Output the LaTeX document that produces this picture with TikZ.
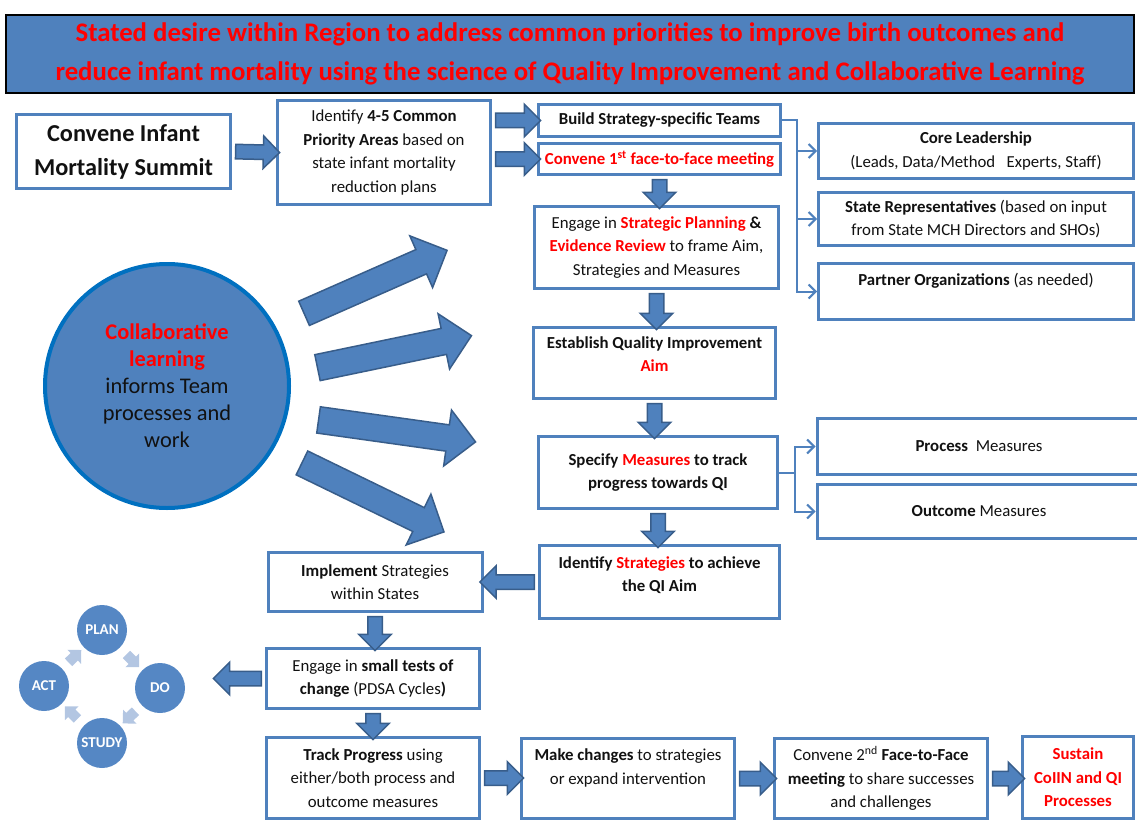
\documentclass[tikz,border=0pt]{standalone}
\usepackage{fontspec}
\setmainfont{Carlito}
\usetikzlibrary{arrows.meta,positioning,shapes.arrows,shapes.geometric,calc}
\definecolor{cBlue}{HTML}{4F81BD}
\definecolor{cBlueDk}{HTML}{385D8A}
\definecolor{cRing}{HTML}{0070C0}
\definecolor{cRed}{HTML}{FF0000}
\definecolor{cPale}{HTML}{B3C6E2}
\definecolor{cCycle}{HTML}{5587C4}
\definecolor{cInk}{HTML}{111111}

% red bold highlight
\newcommand{\hl}[1]{\textcolor{cRed}{\bfseries #1}}
% fat block arrow from #2 to #3
\newcommand{\fatarrow}[3][]{%
  \path let \p1=#2, \p2=#3,
    \n1={atan2(\y2-\y1,\x2-\x1)}, \n2={veclen(\x2-\x1,\y2-\y1)} in
    node[blockarrow, #1, minimum height=\n2, rotate=\n1] at ($(\p1)!0.5!(\p2)$) {};}

\begin{document}
\begin{tikzpicture}[
    x=1pt, y=-1pt,
    every node/.style={text=cInk},
    box/.style={
        rectangle, draw=cBlue, line width=3pt, fill=white,
        align=center, inner sep=2pt, font=\fontsize{16.8}{23.5}\selectfont
    },
    banner/.style={
        rectangle, draw=black, line width=2pt, fill=cBlue,
        minimum width=1128, minimum height=78, align=center,
        text=cRed, font=\fontsize{26.8}{39}\selectfont\bfseries
    },
    learn/.style={
        circle, draw=cRing, line width=4pt, fill=cBlue, minimum size=244,
        align=center, inner sep=0pt, font=\fontsize{22.4}{27}\selectfont
    },
    cycle/.style={
        circle, fill=cCycle, minimum size=50, inner sep=0pt,
        text=white, font=\fontsize{15}{16}\selectfont\bfseries
    },
    blockarrow/.style={
        single arrow, draw=cBlueDk, fill=cBlue, line width=1.5pt,
        inner xsep=0pt, inner ysep=6.5pt, single arrow head extend=9pt,
        minimum width=1pt
    },
    rayarrow/.style={inner ysep=12.5pt, single arrow head extend=15pt},
    cyclearrow/.style={draw=none, fill=cPale, inner ysep=4.5pt, single arrow head extend=4.5pt},
    link/.style={draw=cBlue, line width=2pt, -{Straight Barb[length=7pt,width=14pt]}},
]
\useasboundingbox (0,0) rectangle (1137,824);
\clip (0,0) rectangle (1137,824);

% =====================================================
% Banner and top row
% =====================================================

\node[banner] (goal) at (570,54)
    {Stated desire within Region to address common priorities to improve birth outcomes and\\
     reduce infant mortality using the science of Quality Improvement and Collaborative Learning};

\node[box, minimum width=214, minimum height=74, font=\fontsize{24.3}{34}\selectfont\bfseries]
    (summit) at (123.5,151.5) {Convene Infant\\Mortality Summit};
\node[box, minimum width=213, minimum height=104] (areas) at (384,152.5)
    {Identify \textbf{4-5 Common}\\\textbf{Priority Areas} based on\\state infant mortality\\reduction plans};
\node[box, minimum width=242, minimum height=32] (teams) at (659.5,120.5)
    {\textbf{Build Strategy-specific Teams}};
\node[box, minimum width=242, minimum height=31, below=4pt of teams] (meet1)
    {\hl{Convene 1\textsuperscript{st} face-to-face meeting}};

% team members
\node[box, minimum width=315, minimum height=55] (core) at (976,151)
    {\textbf{Core Leadership}\\(Leads, Data/Method\ \ \ Experts, Staff)};
\node[box, minimum width=315, minimum height=53] (staterep) at (976,219)
    {\textbf{State Representatives} (based on input\\from State MCH Directors and SHOs)};
\node[box, minimum width=315, minimum height=56] (partner) at (976,291.5)
    {\textbf{Partner Organizations} (as needed)\\\mbox{}};

% =====================================================
% Main column
% =====================================================

\node[box, minimum width=244, minimum height=82] (planning) at (656.5,247.5)
    {Engage in \hl{Strategic Planning} \textbf{\&}\\\hl{Evidence Review} to frame Aim,\\Strategies and Measures};
\node[box, minimum width=242, minimum height=71] (aim) at (654.5,363)
    {\textbf{Establish Quality Improvement}\\\hl{Aim}\\[-6pt]\mbox{}};
\node[box, minimum width=239, minimum height=72] (measures) at (658,472.5)
    {\textbf{Specify} \hl{Measures} \textbf{to track}\\\textbf{progress towards QI}};
\node[box, minimum width=240, minimum height=73] (strategies) at (659.5,582)
    {\textbf{Identify} \hl{Strategies} \textbf{to achieve}\\\textbf{the QI Aim}\\[-8pt]\mbox{}};

\node[box, minimum width=324, minimum height=56] (process) at (979,446.5)
    {\textbf{Process}\ \ Measures};
\node[box, minimum width=324, minimum height=54] (outcome) at (979,511.5)
    {\textbf{Outcome} Measures};

% =====================================================
% Lower rows
% =====================================================

\node[box, minimum width=214, minimum height=59] (implement) at (375,582)
    {\textbf{Implement} Strategies\\within States};
\node[box, minimum width=213, minimum height=60] (smalltests) at (373,678.5)
    {Engage in \textbf{small tests of}\\\textbf{change} (PDSA Cycles\textbf{)}};
\node[box, minimum width=213, minimum height=81] (track) at (373,778)
    {\textbf{Track Progress} using\\either/both process and\\outcome measures};
\node[box, minimum width=213, minimum height=80] (changes) at (628,778.5)
    {\textbf{Make changes} to strategies\\or expand intervention\\\mbox{}};
\node[box, minimum width=213, minimum height=80] (meet2) at (881,778.5)
    {Convene 2\textsuperscript{nd} \textbf{Face-to-Face}\\\textbf{meeting} to share successes\\and challenges};
\node[box, minimum width=111, minimum height=82] (sustain) at (1078,777.5)
    {\hl{Sustain}\\\hl{CoIIN and QI}\\\hl{Processes}};

% =====================================================
% Collaborative learning and PDSA cycle
% =====================================================

\node[learn] (collab) at (167,386)
    {\hl{Collaborative}\\\hl{learning}\\informs Team\\processes and\\work};

\node[cycle] (plan)  at (102,630) {PLAN};
\node[cycle] (do)    at (160,688) {DO};
\node[cycle] (study) at (102,743) {STUDY};
\node[cycle] (act)   at (44,686)  {ACT};
\coordinate (cycleIn) at (217,680);

% ray ends
\coordinate (ray1s) at (298,316); \coordinate (ray1e) at (441,253);
\coordinate (ray2s) at (311,369); \coordinate (ray2e) at (465,337);
\coordinate (ray3s) at (312,419); \coordinate (ray3e) at (469,441);
\coordinate (ray4s) at (296,460); \coordinate (ray4e) at (438,529);

% =====================================================
% Block arrows
% =====================================================

\fatarrow{(summit.east)}{(areas.west)}
\fatarrow{(areas.east |- teams.west)}{(teams.west)}
\fatarrow{(areas.east |- meet1.west)}{(meet1.west)}
\fatarrow{(meet1.south)}{(meet1.south |- planning.north)}
\fatarrow{(planning.south)}{(planning.south |- aim.north)}
\fatarrow{(aim.south)}{(aim.south |- measures.north)}
\fatarrow{(measures.south)}{(measures.south |- strategies.north)}
\fatarrow{(strategies.west)}{(strategies.west -| implement.east)}
\fatarrow{(implement.south)}{(implement.south |- smalltests.north)}
\fatarrow{(smalltests.west)}{(smalltests.west -| cycleIn)}
\fatarrow{(smalltests.south)}{(smalltests.south |- track.north)}
\fatarrow{(track.east)}{(track.east -| changes.west)}
\fatarrow{(changes.east)}{(changes.east -| meet2.west)}
\fatarrow{(meet2.east)}{(meet2.east -| sustain.west)}

\fatarrow[rayarrow]{(ray1s)}{(ray1e)}
\fatarrow[rayarrow]{(ray2s)}{(ray2e)}
\fatarrow[rayarrow]{(ray3s)}{(ray3e)}
\fatarrow[rayarrow]{(ray4s)}{(ray4e)}

\fatarrow[cyclearrow]{($(plan)!0.39!(do)$)}{($(plan)!0.61!(do)$)}
\fatarrow[cyclearrow]{($(do)!0.39!(study)$)}{($(do)!0.61!(study)$)}
\fatarrow[cyclearrow]{($(study)!0.39!(act)$)}{($(study)!0.61!(act)$)}
\fatarrow[cyclearrow]{($(act)!0.39!(plan)$)}{($(act)!0.61!(plan)$)}

% =====================================================
% Thin branch connectors
% =====================================================

\draw[link] (teams.east) -- ++(15,0) |- (core.west);
\draw[link] (teams.east) -- ++(15,0) |- (staterep.west);
\draw[link] (teams.east) -- ++(15,0) |- (partner.west);

\draw[link] (measures.east) -- ++(16,0) |- (process.west);
\draw[link] (measures.east) -- ++(16,0) |- (outcome.west);

\end{tikzpicture}
\end{document}
